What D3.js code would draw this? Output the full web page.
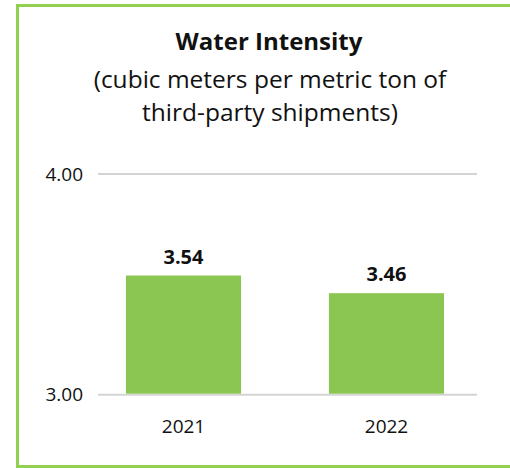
<!DOCTYPE html>
<html>
<head>
<meta charset="utf-8">
<script src="https://cdn.jsdelivr.net/npm/d3@7"></script>
<style>
  html, body { margin: 0; padding: 0; background: #fff; }
  svg { display: block; }
  text { font-family: "Open Sans", "Noto Sans", sans-serif; fill: #111; }
</style>
</head>
<body>
<svg id="chart" width="510" height="468"></svg>
<script>
// Water intensity by year
const years = ["2021", "2022"];
const intensity = [3.54, 3.46];
const yTicks = [3.00, 4.00];
const titleLines = ["Water Intensity"];
const subtitleLines = ["(cubic meters per metric ton of", "third-party shipments)"];

const svg = d3.select("#chart");

// Green frame around the panel
svg.append("rect")
  .attr("x", 17.5).attr("y", 5.5)
  .attr("width", 500).attr("height", 461)
  .attr("fill", "none")
  .attr("stroke", "#92d050")
  .attr("stroke-width", 3);

// Title
svg.append("text")
  .attr("x", 269).attr("y", 50)
  .attr("text-anchor", "middle")
  .style("font-size", "24px").style("font-weight", "700")
  .text(titleLines[0]);

subtitleLines.forEach((s, i) => {
  svg.append("text")
    .attr("x", 270).attr("y", 88 + i * 33)
    .attr("text-anchor", "middle")
    .style("font-size", "24.5px")
    .text(s);
});

// Scales
const y = d3.scaleLinear().domain([3, 4]).range([394.7, 174]);
const x = d3.scaleBand().domain(years).range([82, 488]).paddingInner(0.433).paddingOuter(0.2165);

// Gridlines + y tick labels
const grid = svg.append("g");
grid.selectAll("line").data(yTicks).join("line")
  .attr("x1", 98).attr("x2", 477)
  .attr("y1", d => y(d)).attr("y2", d => y(d))
  .attr("stroke", "#d4d4d4").attr("stroke-width", 2);
grid.selectAll("text").data(yTicks).join("text")
  .attr("x", 83).attr("y", d => y(d) + 6.5)
  .attr("text-anchor", "end")
  .style("font-size", "19px")
  .text(d => d3.format(".2f")(d));

// Bars
svg.append("g").selectAll("rect").data(years).join("rect")
  .attr("x", d => x(d))
  .attr("width", x.bandwidth())
  .attr("y", (d, i) => y(intensity[i]))
  .attr("height", (d, i) => y(3) - y(intensity[i]) - 1)
  .attr("fill", "#8bc652");

// Value labels
svg.append("g").selectAll("text").data(years).join("text")
  .attr("x", d => x(d) + x.bandwidth() / 2)
  .attr("y", (d, i) => y(intensity[i]) - 12)
  .attr("text-anchor", "middle")
  .style("font-size", "20px").style("font-weight", "700")
  .text((d, i) => d3.format(".2f")(intensity[i]));

// Category labels
svg.append("g").selectAll("text").data(years).join("text")
  .attr("x", d => x(d) + x.bandwidth() / 2)
  .attr("y", 433)
  .attr("text-anchor", "middle")
  .style("font-size", "19px")
  .text(d => d);
</script>
</body>
</html>
